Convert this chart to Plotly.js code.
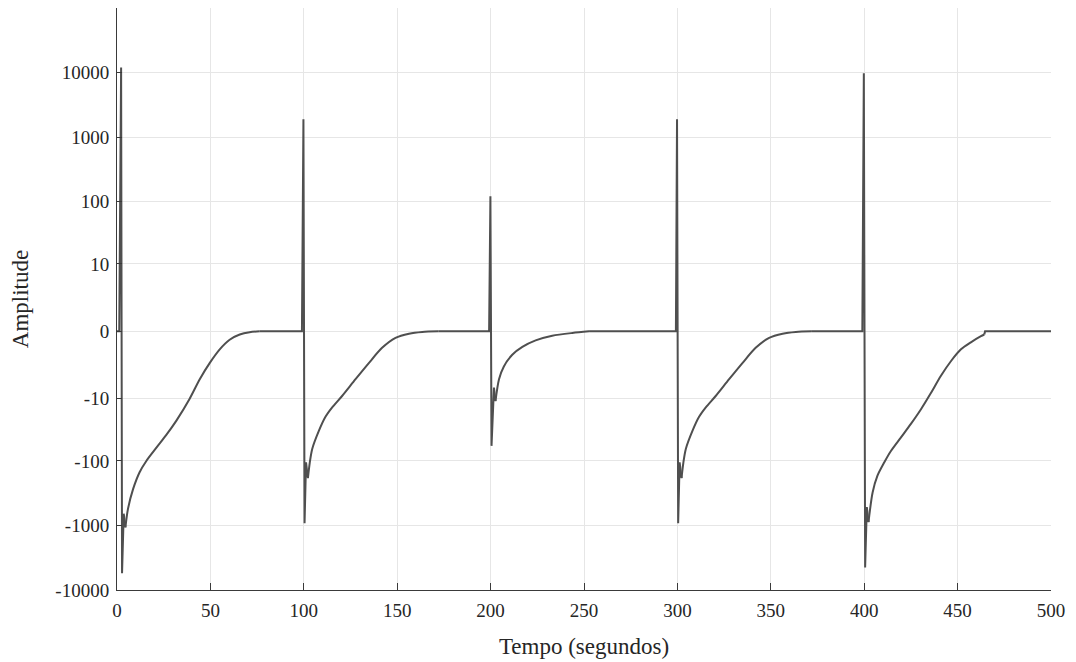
<!DOCTYPE html>
<html>
<head>
<meta charset="utf-8">
<script src="https://cdn.plot.ly/plotly-3.0.1.min.js"></script>
<style>html,body{margin:0;padding:0;background:#fff;}#chart{width:1076px;height:662px;}</style>
</head>
<body>
<div id="chart"></div>
<script>
// ---- data (time in s, amplitude) ----
// spike part of each pulse (straight segments, including the flat zero before it)
const pulse1SpikeTime = [0, 1.2, 2.2, 2.7, 3.6, 4.5];
const pulse1SpikeAmp  = [0, 0, 12000, -5500, -660, -1070];
// recovery part of each pulse (smooth curve)
const pulse1RecTime = [4.5, 5.9, 8.6, 12.1, 15.7, 21.1, 26.4, 31.8, 38.9, 44.3, 49.6, 55.0, 60.3, 65.7, 71.0, 76.4];
const pulse1RecAmp  = [-1070, -550, -275, -150, -100, -62, -39, -23, -10, -4.5, -2.1, -0.9, -0.35, -0.12, -0.03, 0];

const pulse2SpikeTime = [76.4, 99.0, 99.8, 100.4, 101.2, 102.2];
const pulse2SpikeAmp  = [0, 0, 1900, -930, -105, -185];
const pulse2RecTime = [102.2, 103.2, 104.5, 108.0, 111.6, 115.2, 120.5, 127.7, 134.8, 141.9, 149.1, 156.3, 163.4, 172.0];
const pulse2RecAmp  = [-185, -106, -65, -34, -20, -14, -9, -4.5, -2.1, -0.8, -0.26, -0.086, -0.02, 0];

const pulse3SpikeTime = [172.0, 199.2, 199.9, 200.5, 201.8, 202.6];
const pulse3SpikeAmp  = [0, 0, 122, -58, -6.4, -11];
const pulse3RecTime = [202.6, 204.5, 207.1, 211.6, 217.0, 224.1, 233.0, 243.8, 252.7];
const pulse3RecAmp  = [-11, -4.5, -2.5, -1.3, -0.74, -0.38, -0.17, -0.06, 0];

const pulse4SpikeTime = [252.7, 299.2, 299.8, 300.4, 301.2, 302.2];
const pulse4SpikeAmp  = [0, 0, 1900, -930, -105, -185];
const pulse4RecTime = [302.2, 303.2, 304.5, 308.0, 311.6, 315.2, 320.5, 327.7, 334.8, 341.9, 349.1, 356.3, 363.4, 372.0];
const pulse4RecAmp  = [-185, -106, -65, -34, -20, -14, -9, -4.5, -2.1, -0.8, -0.26, -0.086, -0.02, 0];

const pulse5SpikeTime = [372.0, 399.0, 399.8, 400.5, 401.4, 402.3];
const pulse5SpikeAmp  = [0, 0, 9800, -4500, -520, -890];
const pulse5RecTime = [402.3, 404.5, 407.1, 410.7, 414.3, 419.6, 425.0, 430.4, 435.7, 441.0, 446.4, 451.8, 457.1, 462.5, 464.3];
const pulse5RecAmp  = [-890, -310, -170, -106, -70, -43, -26, -15, -8, -3.9, -1.9, -0.9, -0.48, -0.19, -0.12];
const tailTime = [464.3, 464.7, 500];
const tailAmp  = [-0.12, 0, 0];

const yTickValues = [-10000, -1000, -100, -10, 0, 10, 100, 1000, 10000];
const yTickLabels = ['-10000', '-1000', '-100', '-10', '0', '10', '100', '1000', '10000'];
const xTickValues = [0, 50, 100, 150, 200, 250, 300, 350, 400, 450, 500];

// symmetric log transform used by the amplitude axis
function symlog(v) { return Math.sign(v) * Math.log10(1 + Math.abs(v)); }

const lineStyle = {color: '#4f4f4f', width: 2};
function seg(t, a, shape) {
  return {
    x: t, y: a.map(symlog), customdata: a,
    type: 'scatter', mode: 'lines',
    line: Object.assign({shape: shape, smoothing: 0.8}, lineStyle),
    hovertemplate: '%{x}, %{customdata}<extra></extra>'
  };
}

const traces = [
  seg(pulse1SpikeTime, pulse1SpikeAmp, 'linear'), seg(pulse1RecTime, pulse1RecAmp, 'spline'),
  seg(pulse2SpikeTime, pulse2SpikeAmp, 'linear'), seg(pulse2RecTime, pulse2RecAmp, 'spline'),
  seg(pulse3SpikeTime, pulse3SpikeAmp, 'linear'), seg(pulse3RecTime, pulse3RecAmp, 'spline'),
  seg(pulse4SpikeTime, pulse4SpikeAmp, 'linear'), seg(pulse4RecTime, pulse4RecAmp, 'spline'),
  seg(pulse5SpikeTime, pulse5SpikeAmp, 'linear'), seg(pulse5RecTime, pulse5RecAmp, 'spline'),
  seg(tailTime, tailAmp, 'linear')
];

const fontFam = '"Liberation Serif", "Times New Roman", serif';
const layout = {
  width: 1076, height: 662,
  margin: {l: 117, r: 25, t: 8, b: 72},
  paper_bgcolor: '#ffffff', plot_bgcolor: '#ffffff',
  showlegend: false,
  font: {family: fontFam, color: '#262626', size: 19},
  xaxis: {
    range: [0, 500],
    tickvals: xTickValues,
    ticktext: xTickValues.map(String),
    showgrid: true, gridcolor: '#e6e6e6', gridwidth: 1,
    zeroline: false,
    showline: true, linecolor: '#3a3a3a', linewidth: 1,
    ticks: 'inside', ticklen: 7, tickcolor: '#3a3a3a',
    ticklabelstandoff: 3,
    tickfont: {family: fontFam, size: 19, color: '#262626'},
    title: {text: 'Tempo (segundos)', font: {family: fontFam, size: 23, color: '#262626'}, standoff: 18}
  },
  yaxis: {
    range: [-4, 5],
    tickvals: yTickValues.map(symlog),
    ticktext: yTickLabels,
    showgrid: true, gridcolor: '#e6e6e6', gridwidth: 1,
    zeroline: false,
    showline: true, linecolor: '#3a3a3a', linewidth: 1,
    ticks: 'inside', ticklen: 5, tickcolor: '#3a3a3a',
    ticklabelstandoff: 3,
    tickfont: {family: fontFam, size: 19, color: '#262626'},
    title: {text: 'Amplitude', font: {family: fontFam, size: 23, color: '#262626'}, standoff: 20}
  }
};

Plotly.newPlot('chart', traces, layout, {displayModeBar: false, staticPlot: true});
</script>
</body>
</html>
